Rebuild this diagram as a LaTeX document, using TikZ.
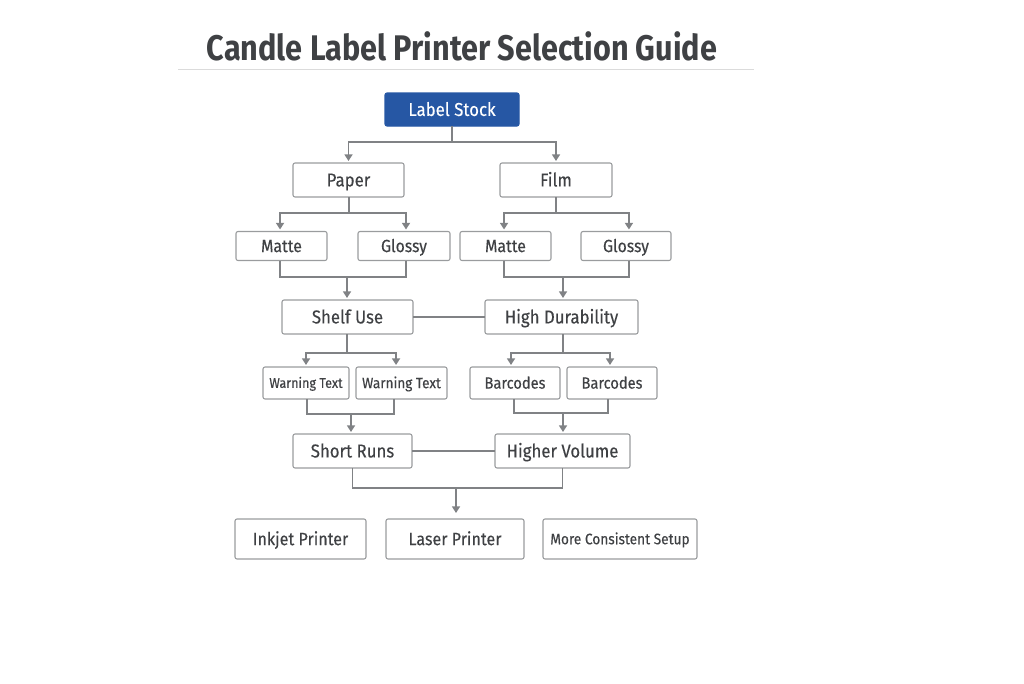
\documentclass[tikz,border=0pt]{standalone}
\usepackage{fontspec}
\setmainfont{Fira Sans}
\newfontfamily\titlefont[FakeStretch=0.86]{Fira Sans}
\newfontfamily\boxfont[FakeStretch=0.9,FakeBold=0.25]{Fira Sans}
\usetikzlibrary{arrows.meta}
\definecolor{ink}{HTML}{3F4144}
\definecolor{wire}{HTML}{808285}
\definecolor{edge}{HTML}{9A9C9E}
\definecolor{stock}{HTML}{2657A4}
\begin{document}
\begin{tikzpicture}[x=0.75pt,y=-0.75pt,
        box/.style={
            rectangle,
            rounded corners=1.5pt,
            inner sep=0pt,
            outer sep=0pt,
            draw=edge,
            line width=0.8pt,
            fill=white,
            text=ink,
            text depth=0pt
        },
        wirepath/.style={draw=wire,line width=1.3pt},
        wirearrow/.style={wirepath,-{Triangle[width=6pt,length=5pt]}}
    ]
        \useasboundingbox (0,0) rectangle (1024,683);
        % title
        \node[text=ink,font={\titlefont\bfseries\fontsize{26.7}{30}\selectfont}] (title) at (462,46)
            {Candle Label Printer Selection Guide};
        \coordinate (ruleL) at (178,69);
        \coordinate (ruleR) at (754,69);
        \draw[draw=black!14,line width=0.7pt] (ruleL) -- (ruleR);
        % draw all boxes
        \node[box,draw=stock,fill=stock,text=white,minimum width=100.5pt,minimum height=24.75pt,
            text height=9.7pt,font=\boxfont\fontsize{14}{16}\selectfont] (stock) at (452,109.5) {Label Stock};
        \foreach \name/\x/\y/\w/\h/\fs/\txt in {
            paper/348.5/180/111/34/14/Paper,
            film/556/180/112/34/14/Film,
            matteA/281.5/246/91/29/13.2/Matte,
            glossyA/404/246/92/29/13.2/Glossy,
            matteB/505.5/246/91/29/13.2/Matte,
            glossyB/626/246/90/29/13.2/Glossy,
            shelf/347.5/317/131/34/14/Shelf Use,
            durable/561.5/317/153/34/14/High Durability,
            shortruns/352.5/451/119/34/14/Short Runs,
            volume/562.5/451/135/34/14/Higher Volume,
            inkjet/300.5/539/131/40/13.4/Inkjet Printer,
            laser/455/539/138/40/13.4/Laser Printer,
            warnA/306/383/86/32/10.5/Warning Text,
            warnB/401.5/383/91/32/11.3/Warning Text,
            barA/515/383/90/32/12.2/Barcodes,
            barB/612/383/90/32/12.2/Barcodes,
            setup/620/539/154/40/11.4/More Consistent Setup}
            \node[box,minimum width=0.75pt*\w,minimum height=0.75pt*\h,text height=0.69pt*\fs,
                font=\boxfont\fontsize{\fs}{16}\selectfont] (\name) at (\x,\y) {\txt};
        % splits
        \foreach \from/\sx/\sy/\left/\lshift/\right/\rshift in {
            stock/452/142/paper/0/film/0,
            paper/349/213/matteA/-1.1/glossyA/1.5,
            film/556/213/matteB/-1.1/glossyB/2.2,
            shelf/347/353/warnA/0/warnB/-4.1,
            durable/563/353/barA/-3/barB/-1.5} {
            \coordinate (\from split) at (\sx,\sy);
            \draw[wirepath] (\from.south -| \from split) -- (\from split);
            \draw[wirearrow] (\from split) -| ([xshift=\lshift pt,yshift=1.5pt]\left.north);
            \draw[wirearrow] (\from split) -| ([xshift=\rshift pt,yshift=1.5pt]\right.north);
        }
        % merges
        \foreach \left/\lshift/\right/\rshift/\mx/\my/\to in {
            matteA/-1.1/glossyA/1.5/347/277/shelf,
            matteB/-1.1/glossyB/2.2/563/277/durable,
            warnA/0.8/warnB/-5.6/351/414/shortruns,
            barA/-0.8/barB/-3/563/413/volume} {
            \coordinate (\to merge) at (\mx,\my);
            \draw[wirepath] ([xshift=\lshift pt]\left.south) |- (\to merge);
            \draw[wirepath] ([xshift=\rshift pt]\right.south) |- (\to merge);
            \draw[wirearrow] (\to merge) -- ([yshift=1.5pt]\to.north -| \to merge);
        }
        % side links
        \draw[wirepath] (shelf) -- (durable);
        \draw[wirepath] (shortruns) -- (volume);
        % last merge
        \coordinate (printmerge) at (456,488);
        \draw[wirepath] (shortruns.south) |- (printmerge);
        \draw[wirepath] (volume.south) |- (printmerge);
        \draw[wirearrow] (printmerge) -- ([yshift=4.5pt]laser.north -| printmerge);
    \end{tikzpicture}
\end{document}
